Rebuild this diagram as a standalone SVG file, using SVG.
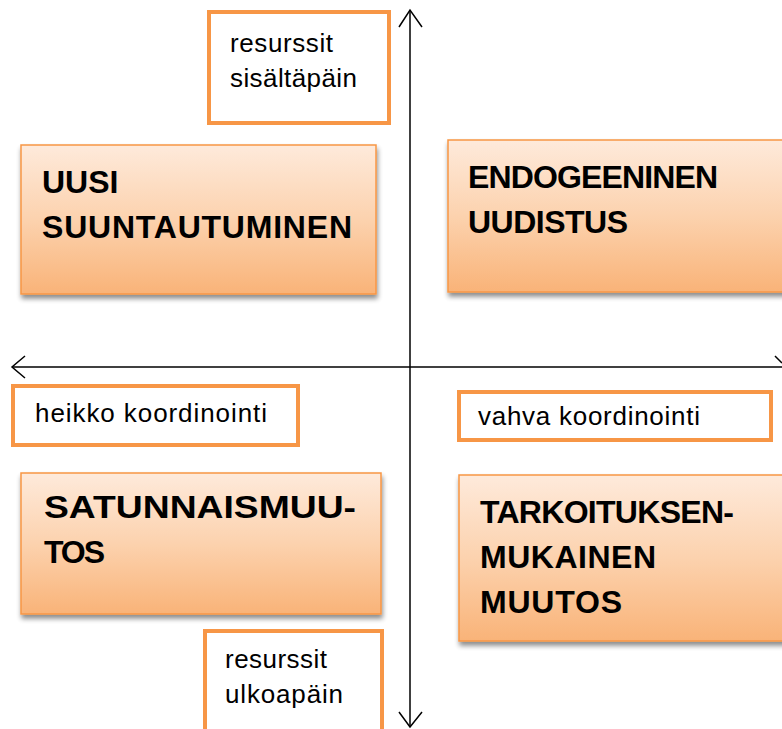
<svg xmlns="http://www.w3.org/2000/svg" width="782" height="729" viewBox="0 0 782 729">
<defs>
<linearGradient id="g" x1="0" y1="0" x2="0" y2="1">
<stop offset="0" stop-color="#FEEADB"/>
<stop offset="0.5" stop-color="#FCD2AE"/>
<stop offset="1" stop-color="#F9B378"/>
</linearGradient>
<filter id="sh" x="-10%" y="-10%" width="125%" height="130%">
<feGaussianBlur in="SourceAlpha" stdDeviation="2.5"/>
<feOffset dx="1" dy="4" result="b"/>
<feComponentTransfer><feFuncA type="linear" slope="0.45"/></feComponentTransfer>
<feMerge><feMergeNode/><feMergeNode in="SourceGraphic"/></feMerge>
</filter>
</defs>
<style>
.q{fill:url(#g);stroke:#F79646;stroke-width:1.5;filter:url(#sh)}
.l{fill:#fff;stroke:#F79646;stroke-width:4}
.bt{font-family:"Liberation Sans",Arial,sans-serif;font-weight:bold;font-size:32px;fill:#000}
.st{font-family:"Liberation Sans",Arial,sans-serif;font-size:26px;fill:#000}
.ax{stroke:#000;stroke-width:1.5;fill:none}
</style>
<rect width="782" height="729" fill="#fff"/>
<g id="axes">
<line class="ax" x1="410" y1="10" x2="410" y2="727"/>
<polyline class="ax" points="399,27 410,10 422,27"/>
<polyline class="ax" points="399,712 410,727 422,712"/>
<line class="ax" x1="12" y1="367" x2="782" y2="367"/>
<polyline class="ax" points="25,356 12,367 25,378"/>
<polyline class="ax" points="775,356 782,363"/>
</g>
<g id="n-sisalta">
<rect class="l" x="209" y="12" width="180" height="111"/>
<text class="st" x="230" y="52" textLength="103">resurssit</text>
<text class="st" x="230" y="87" textLength="127">sisältäpäin</text>
</g>
<g id="n-uusi">
<rect class="q" x="21" y="145" width="355" height="149"/>
<text class="bt" x="42" y="193">UUSI</text>
<text class="bt" x="42" y="238" textLength="310">SUUNTAUTUMINEN</text>
</g>
<g id="n-endo">
<rect class="q" x="448" y="140" width="345" height="152"/>
<text class="bt" x="468" y="188" textLength="250">ENDOGEENINEN</text>
<text class="bt" x="468" y="233" textLength="160">UUDISTUS</text>
</g>
<g id="n-heikko">
<rect class="l" x="13" y="386" width="285" height="59"/>
<text class="st" x="35" y="422" textLength="232">heikko koordinointi</text>
</g>
<g id="n-vahva">
<rect class="l" x="459" y="392" width="312" height="48"/>
<text class="st" x="478" y="425" textLength="222">vahva koordinointi</text>
</g>
<g id="n-satunnais">
<rect class="q" x="21" y="473" width="360" height="141"/>
<text class="bt" x="44" y="518" textLength="312" lengthAdjust="spacingAndGlyphs">SATUNNAISMUU-</text>
<text class="bt" x="44" y="563" textLength="61">TOS</text>
</g>
<g id="n-tarkoitus">
<rect class="q" x="459" y="475" width="335" height="166"/>
<text class="bt" x="480" y="523" textLength="254">TARKOITUKSEN-</text>
<text class="bt" x="480" y="568" textLength="176">MUKAINEN</text>
<text class="bt" x="480" y="613" textLength="142">MUUTOS</text>
</g>
<g id="n-ulko">
<rect class="l" x="205" y="631" width="177" height="110"/>
<text class="st" x="225" y="668" textLength="102">resurssit</text>
<text class="st" x="225" y="703" textLength="118">ulkoapäin</text>
</g>
</svg>
